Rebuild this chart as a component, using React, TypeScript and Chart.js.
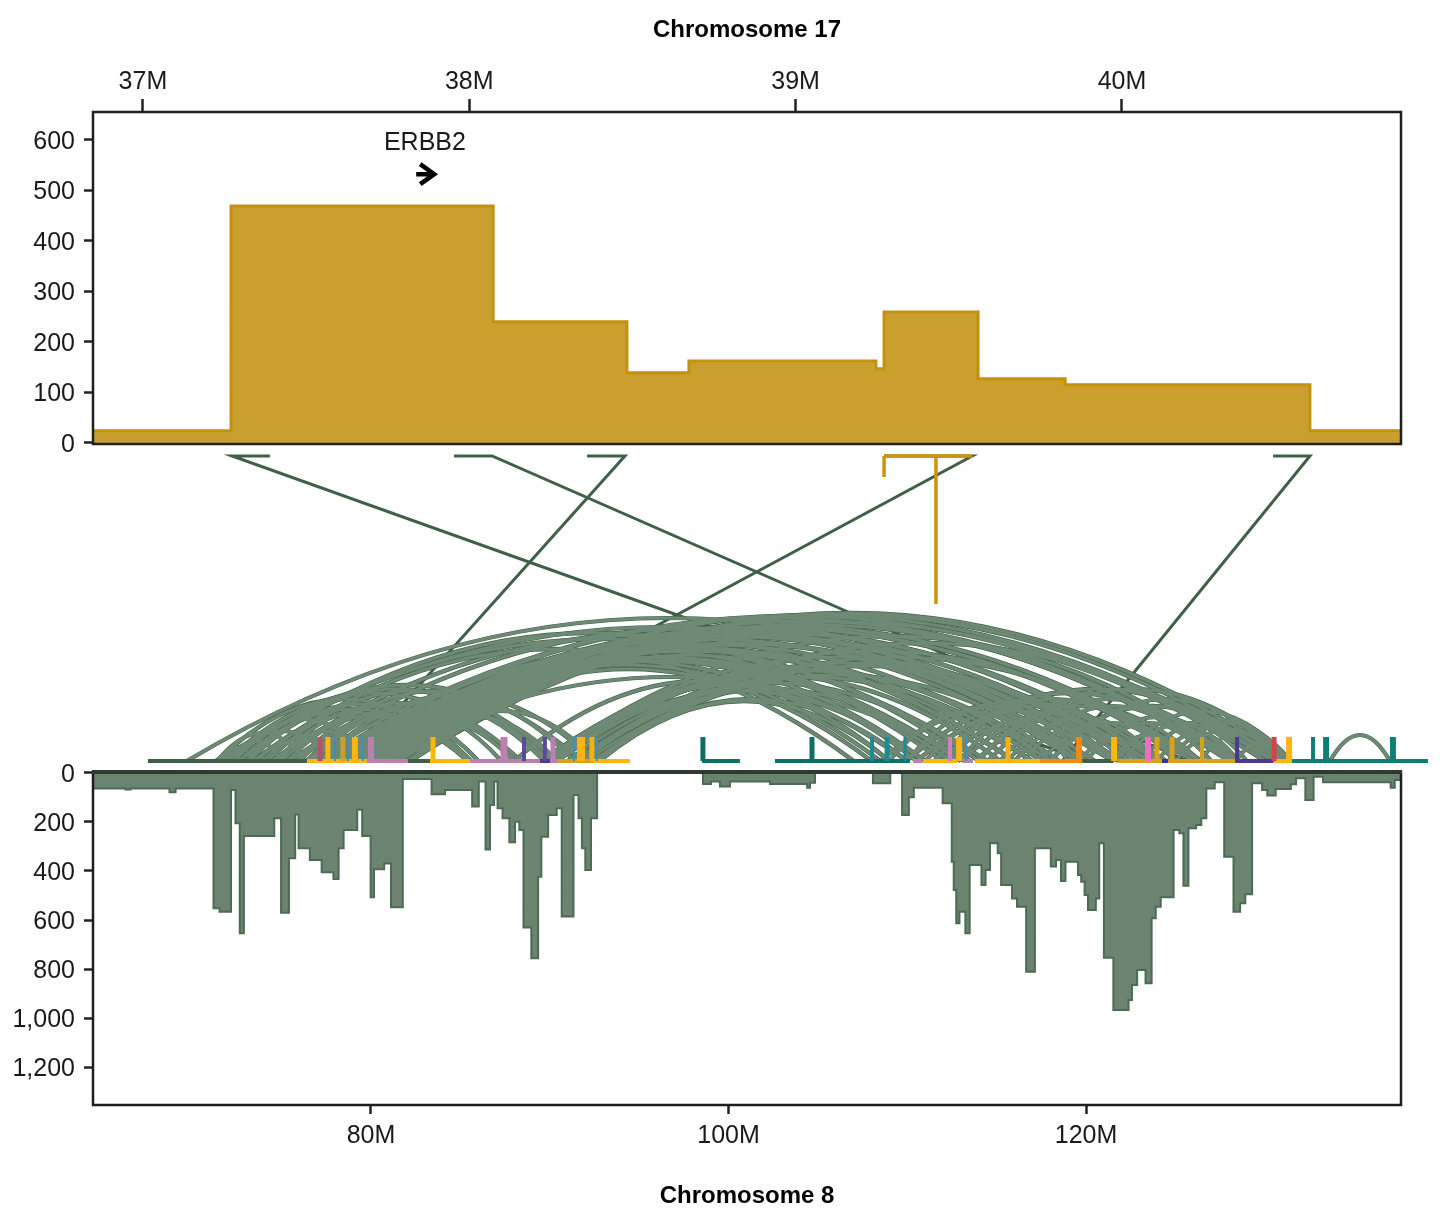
import React, { useEffect, useRef } from "react";
import { Chart, registerables } from "chart.js";
Chart.register(...registerables);

const chr17Ticks = [37, 38, 39, 40];
const chr8Ticks = [80, 100, 120];
const chr17YTicks = [0, 100, 200, 300, 400, 500, 600];
const chr8YTicks = [0, 200, 400, 600, 800, 1000, 1200];

// chr17 coverage: step start (Mb), depth
const chr17Pos = [36.847, 37.27, 38.073, 38.483, 38.673, 39.246, 39.271, 39.559, 39.826, 40.576, 40.855];
const chr17Depth = [24, 469, 240, 139, 162, 147, 259, 127, 115, 24, 24];

// chr8 coverage: step start (Mb), depth
const chr8Pos = [64.47, 66.27, 66.55, 68.73, 69.07, 71.19, 71.53, 72.17, 72.42, 72.66, 72.89, 74.59, 74.97, 75.41, 75.76, 75.95, 76.58, 77.24, 77.9, 78.19, 78.47, 79.23, 79.51, 79.98, 80.17, 80.74, 81.12, 81.78, 83.39, 84.14, 85.66, 86.03, 86.41, 86.66, 86.89, 87.08, 87.36, 87.74, 88.06, 88.3, 88.53, 88.97, 89.35, 89.53, 89.91, 90.39, 90.67, 91.33, 91.61, 91.8, 91.99, 92.31, 92.65, 98.57, 99.02, 99.52, 100.08, 102.32, 104.4, 104.56, 104.84, 108.08, 109.05, 109.71, 110.09, 110.37, 111.98, 112.49, 112.6, 112.74, 112.92, 113.25, 113.49, 114.15, 114.38, 114.63, 115.06, 115.25, 115.86, 116.14, 116.65, 117.14, 118.03, 118.32, 118.6, 118.85, 119.55, 119.73, 119.92, 120.11, 120.55, 120.74, 121.0, 121.53, 122.38, 122.57, 122.86, 123.33, 123.67, 123.9, 124.18, 124.9, 125.22, 125.45, 125.73, 126.16, 126.45, 126.73, 127.2, 127.73, 128.25, 128.62, 128.91, 129.29, 129.85, 130.14, 130.61, 131.46, 131.75, 132.27, 132.73, 133.26, 137.04, 137.27, 137.62];
const chr8Depth = [63, 67, 63, 79, 63, 552, 566, 69, 205, 654, 257, 185, 570, 348, 169, 307, 355, 405, 433, 307, 233, 150, 257, 507, 393, 369, 548, 25, 87, 69, 137, 35, 312, 131, 35, 144, 185, 283, 199, 233, 631, 756, 423, 260, 171, 144, 586, 90, 185, 307, 396, 185, 0, 45, 35, 55, 35, 45, 60, 40, 0, 42, 0, 171, 99, 60, 124, 362, 478, 613, 566, 654, 376, 457, 396, 287, 328, 457, 512, 546, 811, 307, 382, 355, 441, 362, 416, 444, 498, 559, 512, 287, 754, 967, 926, 865, 804, 858, 593, 546, 507, 233, 246, 460, 226, 212, 185, 63, 38, 342, 566, 532, 495, 42, 69, 92, 65, 46, 22, 110, 15, 38, 60, 29, 29];

// rearrangement arcs within chr8: start Mb, end Mb, apex height
const arcStart = [
  69.7, 71.3, 71.6, 72.2, 71.4, 72.4, 71.5, 73.2, 74.7, 74.9,
  76.4, 76.6, 77.1, 77.6, 78, 78.4, 78.7, 79.1, 79.6, 80,
  76.4, 77.1, 80.1, 81, 82.2, 81.5, 82.2, 82.2, 80.4, 80.8,
  81.2, 81.6, 80.2, 82, 79.5, 80.5, 80, 79.9, 88, 89.7,
  89.8, 90.2, 90.4, 91.3, 91.4, 91.8, 92.4, 92.4, 92.6, 92.8,
  108.5, 109.9, 110.5, 111, 112.4, 113, 113.8, 115.2, 115.6, 117.4,
  119.6, 121.5, 121.6, 124.6, 124, 126.4, 128.4, 133.65,
  78.2, 79.3, 80.5, 81.5, 78.9, 78.6, 78.3, 77.8, 77.4, 90,
  89.9, 89.5, 90.4, 91, 91.5, 92, 82.2, 81, 79, 78,
  71.9, 73, 74.2, 75.3, 75.8, 76.8, 78, 72.6, 73.6, 75,
  77.3, 79, 80.2, 79.5, 72, 74, 71.4, 72.3, 76,
  110, 112, 114, 114.5, 116, 118, 118, 120, 122, 123,
  125, 111.5, 109, 113, 116.5,
  72.6, 73.4, 74.4, 75.4,
];
const arcEnd = [
  123.6, 121.5, 114.5, 91.8, 85.6, 80, 73.5, 85.5, 86, 79.8,
  85.5, 89.7, 92.5, 112.4, 116, 119.5, 121.8, 124, 126.5, 128.4,
  130.5, 128.3, 108.5, 111, 92.6, 90.4, 113.5, 131.4, 118, 108,
  123, 128, 112.5, 131, 116, 120.5, 113.5, 124.5, 109, 128.4,
  118, 115.2, 110.9, 130.5, 121.6, 112.8, 126.4, 119.6, 110, 109,
  124, 128.4, 130.6, 121.5, 117.4, 126.4, 131.4, 119.6, 124, 130,
  128.4, 125, 131.4, 131.4, 128.5, 130.6, 131.4, 137,
  110, 113, 117, 120, 126, 113, 117, 121.5, 126.4, 110.5,
  118.5, 122.5, 126, 114, 117.5, 123.5, 130, 124, 130.5, 122,
  88.4, 89.8, 90.3, 88, 91.4, 87.3, 90, 85.5, 85.4, 85.5,
  85.6, 88, 86, 85.5, 78, 78.5, 76.4, 75, 80,
  120, 122, 123, 128, 127, 125, 131, 127, 129, 131.4,
  131, 125, 118, 119, 122,
  112, 107, 116, 120,
];
const arcHeight = [
  143, 134, 122, 76, 62, 42, 14, 57, 55, 30,
  44, 59, 66, 111, 115, 122, 127, 131, 135, 140,
  145, 143, 96, 100, 50, 44, 106, 148, 116, 92,
  124, 136, 100, 146, 112, 118, 84, 128, 80, 125,
  92, 85, 70, 118, 98, 72, 104, 86, 62, 60,
  60, 68, 72, 50, 32, 55, 72, 26, 44, 55,
  44, 25, 50, 38, 28, 28, 20, 26,
  100, 104, 112, 117, 133, 103, 110, 125, 134, 76,
  90, 104, 110, 78, 84, 95, 139, 128, 146, 129,
  68, 72, 70, 58, 70, 52, 55, 52, 48, 46,
  40, 42, 30, 26, 30, 24, 28, 20, 20,
  55, 55, 50, 62, 55, 38, 62, 38, 38, 42,
  32, 62, 50, 40, 32,
  128, 112, 126, 132,
];

// translocation links: chr17 flat stub and breakpoint, chr8 breakpoint
const linkStub17 = [37.389, 37.953, 38.361, 39.271, 40.463];
const linkBreak17 = [37.273, 38.07, 38.477, 39.541, 40.576];
const linkBreak8 = [120.0, 125.7, 78.9, 81.9, 118.66];

// chr17 own structural feature
const goldFeatureX = [39.271, 39.43, 39.541];

// track segments along chr8
const segStart = [67.52, 76.42, 79.78, 82.07, 83.3, 85.54, 89.45, 90.01, 90.41, 92.42, 98.52, 102.6, 110.32, 110.88, 113.12, 113.79, 115.19, 117.43, 119.78, 121.79, 124.25, 124.59, 128.34, 130.57, 131.52];
const segEnd = [76.42, 79.78, 82.07, 83.3, 85.54, 89.45, 90.01, 90.41, 92.42, 94.49, 100.64, 110.15, 110.83, 112.78, 113.68, 115.19, 117.43, 119.78, 121.51, 124.25, 124.59, 128.34, 130.46, 131.52, 139.13];
const segColor = ["#3F6047", "#FDB50F", "#BC7FAE", "#3F6047", "#FDB50F", "#BC7FAE", "#4B3A8C", "#BC7FAE", "#D9A21B", "#FDB50F", "#0F6E66", "#0F6E66", "#BC7FAE", "#FDB50F", "#BC7FAE", "#FDB50F", "#FDB50F", "#F58A0C", "#3F6047", "#D9A21B", "#2B3A9C", "#D9A21B", "#4B3A8C", "#FDB50F", "#0F7F76"];

const spikeX = [77.15, 77.59, 77.99, 78.43, 78.71, 79.1, 79.55, 80.0, 83.47, 87.44, 88.56, 89.73, 90.18, 91.36, 91.75, 92.36, 92.64, 98.57, 104.67, 108.03, 108.87, 109.87, 112.39, 112.9, 113.29, 115.64, 119.61, 121.57, 123.47, 123.97, 124.81, 126.49, 128.45, 130.52, 131.36, 132.7, 133.43, 137.17];
const spikeColor = ["#B5526B", "#FDB50F", "#3F8FB8", "#C9A02E", "#3F8FB8", "#FDB50F", "#3F8FB8", "#BC7FAE", "#FDB50F", "#BC7FAE", "#5B4A9C", "#5B4A9C", "#BC7FAE", "#3F8FB8", "#FDB50F", "#F5B014", "#3F8FB8", "#0F6E66", "#0F6E66", "#1F8A94", "#1F8A94", "#1F8A94", "#D47FC0", "#FDB50F", "#3F8FB8", "#F5B014", "#F58A0C", "#FDB50F", "#F06CC8", "#D9A21B", "#D9A21B", "#D9A21B", "#4B3A8C", "#D8434B", "#FDB50F", "#0F7F76", "#0F7F76", "#0F7F76"];
const spikeWidth = [5, 5, 2, 5, 2, 6, 2, 6, 5, 7, 4, 4, 5, 2, 8, 5, 2, 5, 5, 4, 5, 3, 4, 6, 2, 5, 6, 6, 6, 5, 5, 4, 4, 5, 6, 4, 6, 6];

const TRACK_Y = 11;
const SPIKE_Y = 35;
const LINK_Y = 316;

const FONT = "'Liberation Sans', Arial, sans-serif";
const GOLD_FILL = "#CA9F2D";
const GOLD_LINE = "#C4910F";
const GREEN_FILL = "#6B836F";
const GREEN_EDGE = "#4C6B54";
const GREEN_DARK = "#3F6047";
const INK = "#1A1A1A";

function steps(xs: number[], ys: number[]) {
  return xs.map((x, i) => ({ x, y: ys[i] }));
}

const panelPlugin = {
  id: "panels",
  beforeDatasetsDraw(chart: any) {
    const { ctx, scales } = chart;
    const { xt, xb, ym } = scales;
    ctx.save();
    ctx.strokeStyle = GREEN_DARK;
    ctx.lineWidth = 3;
    linkBreak17.forEach((b, i) => {
      ctx.beginPath();
      ctx.moveTo(xt.getPixelForValue(linkStub17[i]), ym.getPixelForValue(LINK_Y));
      ctx.lineTo(xt.getPixelForValue(b), ym.getPixelForValue(LINK_Y));
      ctx.lineTo(xb.getPixelForValue(linkBreak8[i]), ym.getPixelForValue(TRACK_Y));
      ctx.stroke();
    });
    const base = ym.getPixelForValue(TRACK_Y);
    const pass = (color: string, width: number) => {
      ctx.strokeStyle = color;
      ctx.lineWidth = width;
      arcStart.forEach((s, i) => {
        const x0 = xb.getPixelForValue(s);
        const x1 = xb.getPixelForValue(arcEnd[i]);
        // a quadratic curve peaks halfway to its control point
        const ctrl = ym.getPixelForValue(TRACK_Y + 2 * arcHeight[i]);
        ctx.beginPath();
        ctx.moveTo(x0, base);
        ctx.quadraticCurveTo((x0 + x1) / 2, ctrl, x1, base);
        ctx.stroke();
      });
    };
    pass("#45644C", 4.2);
    pass("#6F8A74", 2.8);
    ctx.restore();
  },
  afterDatasetsDraw(chart: any) {
    const { ctx, scales } = chart;
    const { xt, yt, yb } = scales;
    ctx.save();
    ctx.strokeStyle = "#1E1E1E";
    ctx.lineWidth = 2.5;
    ctx.strokeRect(xt.left, yt.top, xt.right - xt.left, yt.bottom - yt.top - 1);
    ctx.strokeRect(xt.left, yb.top, xt.right - xt.left, yb.bottom - yb.top);
    ctx.strokeStyle = "#2C3A30";
    ctx.lineWidth = 4;
    ctx.beginPath();
    ctx.moveTo(xt.left - 1, yb.top);
    ctx.lineTo(xt.right + 1, yb.top);
    ctx.stroke();
    // gene label and arrow
    ctx.fillStyle = INK;
    ctx.font = `25px ${FONT}`;
    ctx.textAlign = "center";
    ctx.textBaseline = "middle";
    ctx.fillText("ERBB2", xt.getPixelForValue(37.864), yt.getPixelForValue(594));
    const ax = xt.getPixelForValue(37.868);
    const ay = yt.getPixelForValue(532);
    ctx.strokeStyle = "#000";
    ctx.lineWidth = 4.5;
    ctx.beginPath();
    ctx.moveTo(ax - 10, ay);
    ctx.lineTo(ax + 9, ay);
    ctx.moveTo(ax - 6, ay - 10);
    ctx.lineTo(ax + 8, ay);
    ctx.lineTo(ax - 6, ay + 10);
    ctx.stroke();
    ctx.restore();
  },
};

export default function App() {
  const ref = useRef<HTMLCanvasElement>(null);
  useEffect(() => {
    const segDs = segStart.map((s, i) => ({
      data: [{ x: s, y: TRACK_Y }, { x: segEnd[i], y: TRACK_Y }],
      xAxisID: "xb", yAxisID: "ym", borderColor: segColor[i], borderWidth: 4, pointRadius: 0, clip: false,
    }));
    const spikeDs = spikeX.map((x, i) => ({
      data: [{ x, y: TRACK_Y }, { x, y: SPIKE_Y }],
      xAxisID: "xb", yAxisID: "ym", borderColor: spikeColor[i], borderWidth: spikeWidth[i], pointRadius: 0, clip: false,
    }));
    const goldDs = [
      { data: [{ x: goldFeatureX[0], y: LINK_Y }, { x: goldFeatureX[2], y: LINK_Y }] },
      { data: [{ x: goldFeatureX[0], y: LINK_Y }, { x: goldFeatureX[0], y: 295 }] },
      { data: [{ x: goldFeatureX[1], y: LINK_Y }, { x: goldFeatureX[1], y: 168 }] },
    ].map((d) => ({ ...d, xAxisID: "xt", yAxisID: "ym", borderColor: "#CC930F", borderWidth: 3.5, pointRadius: 0 }));

    const fixedW = (s: any) => { s.width = 93; };
    const yCommon = {
      type: "linear", position: "left", stack: "panels",
      afterFit: fixedW,
      border: { display: false },
      grid: { drawOnChartArea: false, tickLength: 9, tickColor: "#222", tickWidth: 2.5 },
    };
    const tickFont = { family: FONT, size: 25 };
    const chart = new Chart(ref.current!, {
      type: "line",
      data: {
        datasets: [
          ...spikeDs,
          ...segDs,
          ...goldDs,
          {
            data: steps(chr17Pos, chr17Depth), xAxisID: "xt", yAxisID: "yt", stepped: "before",
            borderColor: GOLD_LINE, borderWidth: 3, backgroundColor: GOLD_FILL, fill: "origin", pointRadius: 0,
          },
          {
            data: steps(chr8Pos, chr8Depth), xAxisID: "xb", yAxisID: "yb", stepped: "before",
            borderColor: GREEN_EDGE, borderWidth: 2, backgroundColor: GREEN_FILL, fill: "origin", pointRadius: 0,
          },
        ] as any,
      },
      options: {
        animation: false,
        responsive: false,
        devicePixelRatio: 1,
        layout: { padding: { left: 0, right: 46, top: 0, bottom: 0 } },
        plugins: { legend: { display: false }, tooltip: { enabled: false } },
        scales: {
          xt: {
            type: "linear", position: "top", min: 36.847, max: 40.855,
            afterFit: (s: any) => { s.height = 112; },
            afterBuildTicks: (s: any) => { s.ticks = chr17Ticks.map((value) => ({ value })); },
            border: { display: false },
            grid: { drawOnChartArea: false, tickLength: 13, tickColor: "#222", tickWidth: 2.5 },
            ticks: { font: tickFont, color: INK, padding: 2, maxRotation: 0, autoSkip: false, callback: (v: any) => `${v}M` },
            title: { display: true, text: "Chromosome 17", color: "#000", font: { family: FONT, size: 24, weight: "bold" }, padding: { top: 15.6, bottom: 0 } },
          },
          xb: {
            type: "linear", position: "bottom", min: 64.45, max: 137.62,
            afterFit: (s: any) => { s.height = 117; },
            afterBuildTicks: (s: any) => { s.ticks = chr8Ticks.map((value) => ({ value })); },
            border: { display: false },
            grid: { drawOnChartArea: false, tickLength: 9, tickColor: "#222", tickWidth: 2.5 },
            ticks: { font: tickFont, color: INK, padding: 7, maxRotation: 0, autoSkip: false, callback: (v: any) => `${v}M` },
            title: { display: true, text: "Chromosome 8", color: "#000", font: { family: FONT, size: 24, weight: "bold" }, padding: { top: 0, bottom: 11.6 } },
          },
          yt: {
            ...yCommon, stackWeight: 333, weight: 3, min: -4, max: 655,
            afterBuildTicks: (s: any) => { s.ticks = chr17YTicks.map((value) => ({ value })); },
            ticks: { font: tickFont, color: INK, padding: 9, labelOffset: 2, callback: (v: any) => `${v}` },
          },
          ym: {
            ...yCommon, stackWeight: 327, weight: 2, min: 0, max: 327, display: false,
          },
          yb: {
            ...yCommon, stackWeight: 333, weight: 1, min: -4, max: 1355, reverse: true,
            afterBuildTicks: (s: any) => { s.ticks = chr8YTicks.map((value) => ({ value })); },
            ticks: { font: tickFont, color: INK, padding: 9, labelOffset: 2, callback: (v: any) => Number(v).toLocaleString("en-US") },
          },
        } as any,
      },
      plugins: [panelPlugin],
    } as any);
    return () => chart.destroy();
  }, []);
  return (
    <canvas
      ref={ref}
      width={1447}
      height={1222}
      style={{ position: "absolute", left: 0, top: 0, width: 1447, height: 1222, filter: "blur(0.6px)" }}
    />
  );
}
